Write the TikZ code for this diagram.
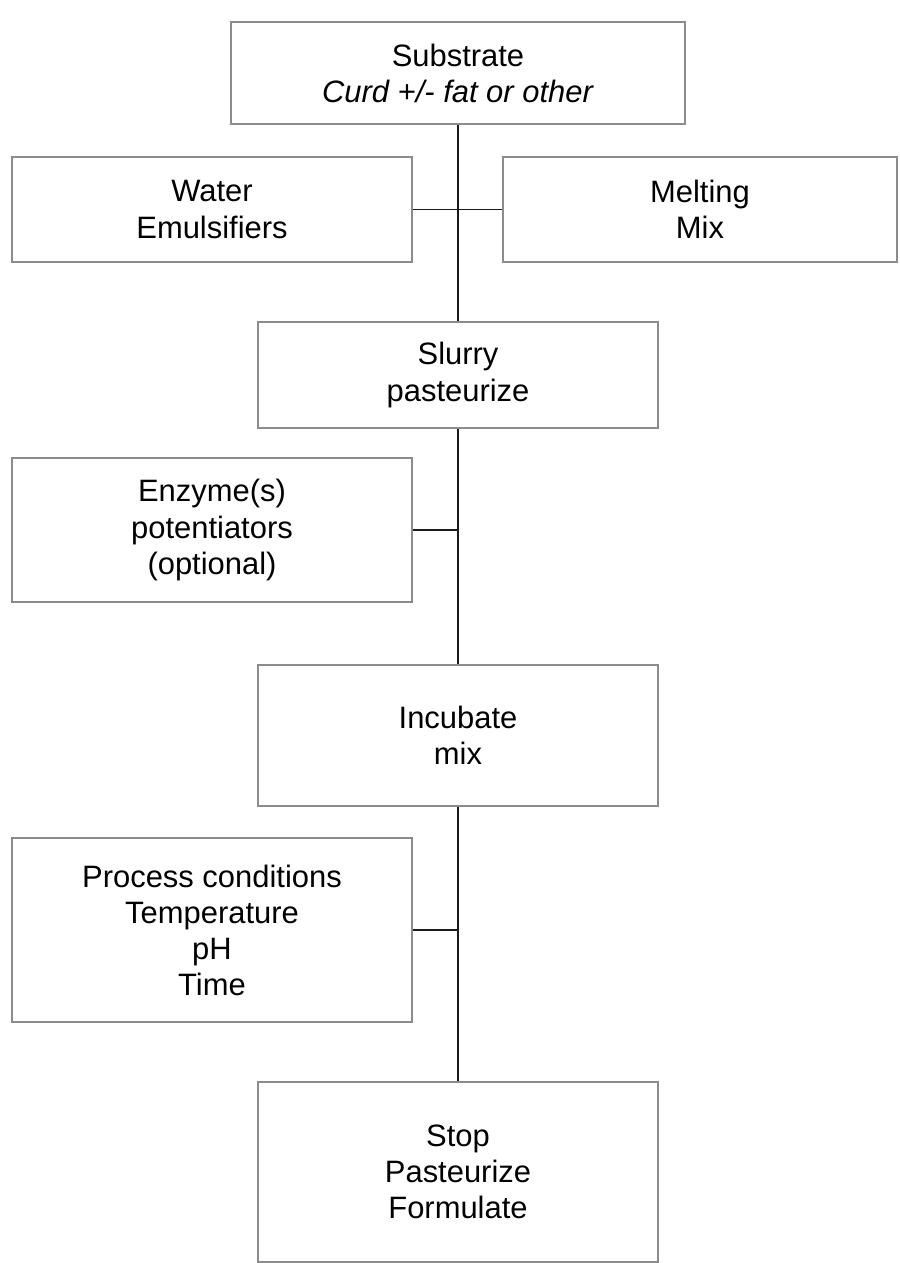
\documentclass[tikz,border=0pt]{standalone}
\usepackage{fontspec}
\setmainfont{Liberation Sans}
\usepackage{tikz}
\usepackage{xcolor}
\usetikzlibrary{positioning, calc}
\definecolor{BoxGray}{HTML}{8C8C8C}
\definecolor{LineBlack}{HTML}{1A1A1A}

\tikzset{
    stage/.style={rectangle, draw=BoxGray, line width=1.1pt, fill=white,
                  text=black, minimum width=8cm, align=center,
                  font=\fontsize{17.6}{20.5}\selectfont},
    link/.style={LineBlack, line width=1.1pt}
}

\begin{document}
\begin{tikzpicture}
    \useasboundingbox (0,0) rectangle (17.98,-25.26);

    % Main column
    \node[stage, minimum width=9.08cm, minimum height=2.04cm]
          (substrate) at (9.16,-1.46) {Substrate\\\textit{Curd +/- fat or other}};
    \node[stage, minimum height=2.12cm]
          (slurry) at (9.16,-7.5) {Slurry\\pasteurize};
    \node[stage, minimum height=2.82cm]
          (incubate) at (9.16,-14.71) {Incubate\\mix};
    \node[stage, minimum height=3.6cm]
          (stop) at (9.16,-23.44) {Stop\\Pasteurize\\Formulate};

    % Inputs
    \node[stage, minimum height=2.1cm]
          (water) at (4.24,-4.19) {Water\\Emulsifiers};
    \node[stage, minimum width=7.88cm, minimum height=2.1cm]
          (melting) at (14.0,-4.19) {Melting\\Mix};
    \node[stage, minimum height=2.88cm]
          (enzyme) at (4.24,-10.6) {Enzyme(s)\\potentiators\\(optional)};
    \node[stage, minimum height=3.68cm]
          (process) at (4.24,-18.6) {Process conditions\\Temperature\\pH\\Time};

    % Trunk
    \draw[link] (substrate.south) -- (slurry.north);
    \draw[link] (slurry.south) -- (incubate.north);
    \draw[link] (incubate.south) -- (stop.north);

    % Side links
    \draw[link] (water.east) -- (melting.west);
    \draw[link] (enzyme.east) -- (enzyme.east -| slurry.south);
    \draw[link] (process.east) -- (process.east -| incubate.south);
\end{tikzpicture}
\end{document}
